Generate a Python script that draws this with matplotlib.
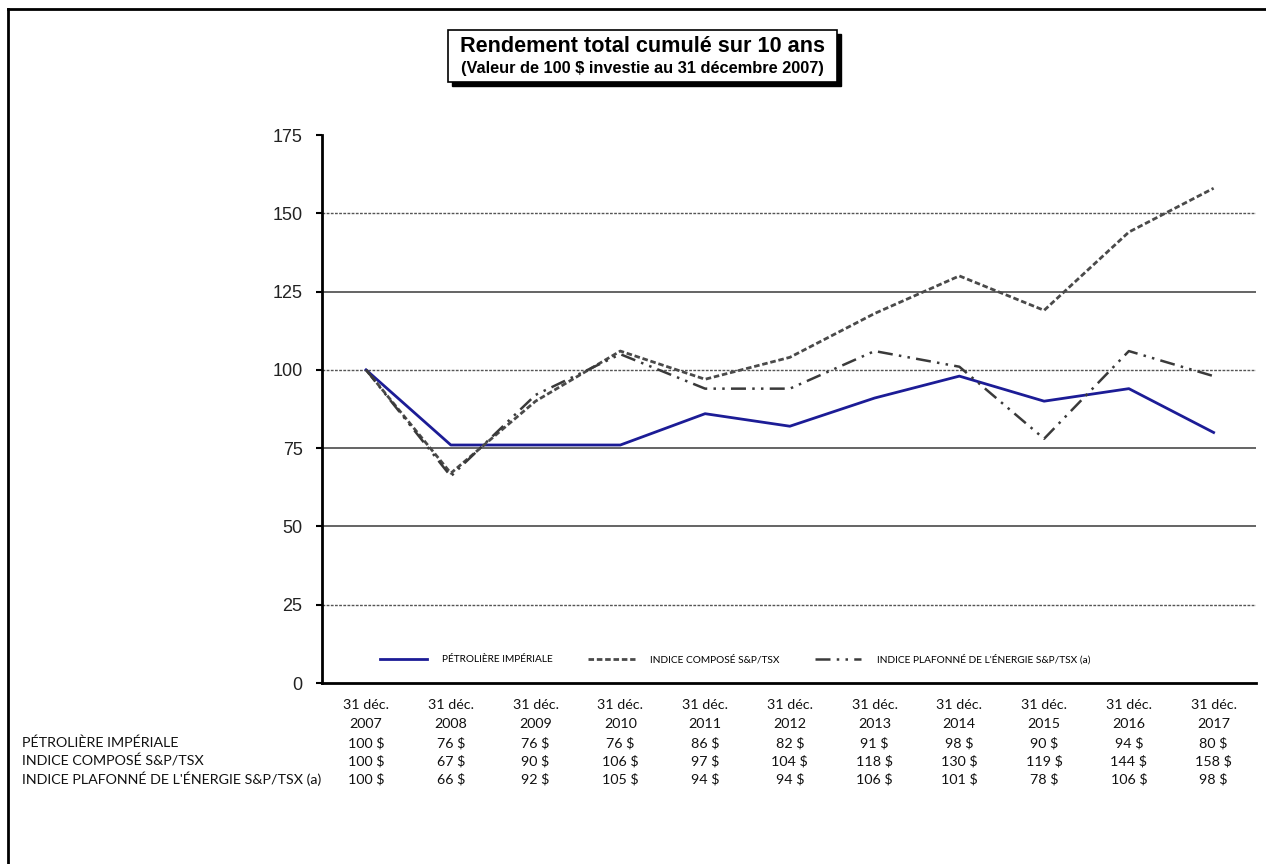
import matplotlib
matplotlib.use("Agg")
import matplotlib.pyplot as plt
from matplotlib.patches import Rectangle
from matplotlib.lines import Line2D
import matplotlib.transforms as mtransforms

# data
annees = ["2007", "2008", "2009", "2010", "2011", "2012", "2013", "2014", "2015", "2016", "2017"]
petroliere = [100, 76, 76, 76, 86, 82, 91, 98, 90, 94, 80]
compose = [100, 67, 90, 106, 97, 104, 118, 130, 119, 144, 158]
energie = [100, 66, 92, 105, 94, 94, 106, 101, 78, 106, 98]
noms = ["PÉTROLIÈRE IMPÉRIALE", "INDICE COMPOSÉ S&P/TSX",
        "INDICE PLAFONNÉ DE L'ÉNERGIE S&P/TSX (a)"]
yticks = [0, 25, 50, 75, 100, 125, 150, 175]
grille_pointillee = [25, 100, 150]
grille_pleine = [50, 75, 125]

W, H = 1266, 864
fig = plt.figure(figsize=(W / 100, H / 100), dpi=100)
ax = fig.add_axes([322 / W, 1 - 683 / H, (1256 - 322) / W, (683 - 135) / H])

x = list(range(len(annees)))

for g in grille_pointillee:
    ax.axhline(g, color="#555555", lw=1.0, ls=(0, (2, 1)), zorder=1)
for g in grille_pleine:
    ax.axhline(g, color="#4a4a4a", lw=1.2, zorder=1)

ax.plot(x, petroliere, color="#1c1c96", lw=2.0, label=noms[0], zorder=3)
ax.plot(x, compose, color="#4a4a4a", lw=2.0, ls=(0, (2, 1)), label=noms[1], zorder=3)
ax.plot(x, energie, color="#3a3a3a", lw=1.8, ls=(0, (6, 2.5, 1, 2.5, 1, 2.5)),
        label=noms[2], zorder=3)

ax.set_xlim(-0.52, 10.5)
ax.set_ylim(0, 175)
ax.set_yticks(yticks)
ax.set_xticks([])
ax.tick_params(axis="y", direction="out", length=4, width=1.5, pad=10,
               labelsize=13, labelcolor="#222222")
for lab in ax.get_yticklabels():
    lab.set_family("Liberation Sans")
for s in ["top", "right"]:
    ax.spines[s].set_visible(False)
ax.spines["left"].set_linewidth(2)
ax.spines["bottom"].set_linewidth(2)

ax.legend(loc="center left", bbox_to_anchor=(0.062, 0.044), ncol=3, frameon=False,
          prop={"family": ["Lato", "DejaVu Sans"], "size": 7.3},
          handlelength=4.6, handletextpad=1.5, columnspacing=3.5,
          borderpad=0, borderaxespad=0)

# table under the chart
tr = mtransforms.blended_transform_factory(ax.transData, fig.transFigure)
tfont = ["Lato", "DejaVu Sans"]
tsize = 10.3
lignes_y = [705, 724, 743, 761, 779]
for i, a in enumerate(annees):
    ax.text(i, 1 - lignes_y[0] / H, "31 déc.", transform=tr, ha="center", va="center",
            family=tfont, fontsize=tsize, color="#111111")
    ax.text(i, 1 - lignes_y[1] / H, a, transform=tr, ha="center", va="center",
            family=tfont, fontsize=tsize, color="#111111")
    for j, serie in enumerate([petroliere, compose, energie]):
        ax.text(i, 1 - lignes_y[2 + j] / H, f"{serie[i]} $", transform=tr,
                ha="center", va="center", family=tfont, fontsize=tsize, color="#111111")
for j, nom in enumerate(noms):
    fig.text(22 / W, 1 - lignes_y[2 + j] / H, nom, ha="left", va="center",
             family=tfont, fontsize=tsize, color="#111111")

# title box with shadow
fig.add_artist(Rectangle((452 / W, 1 - 86 / H), (837 - 448) / W, (82 - 30) / H,
                         transform=fig.transFigure, facecolor="black", edgecolor="black"))
fig.add_artist(Rectangle((448 / W, 1 - 82 / H), (837 - 448) / W, (82 - 30) / H,
                         transform=fig.transFigure, facecolor="white", edgecolor="black",
                         lw=1.2))
fig.text(642 / W, 1 - 46 / H, "Rendement total cumulé sur 10 ans", ha="center",
         va="center", family="Liberation Sans", fontweight="bold", fontsize=15.6)
fig.text(642 / W, 1 - 69 / H, "(Valeur de 100 $ investie au 31 décembre 2007)",
         ha="center", va="center", family="Liberation Sans", fontweight="bold",
         fontsize=11.8)

# outer frame
fig.add_artist(Line2D([8 / W, 8 / W], [0, 1 - 9 / H], transform=fig.transFigure,
                      color="black", lw=2))
fig.add_artist(Line2D([8 / W, 1], [1 - 9 / H, 1 - 9 / H], transform=fig.transFigure,
                      color="black", lw=2))

fig.savefig("out.png", dpi=100)
